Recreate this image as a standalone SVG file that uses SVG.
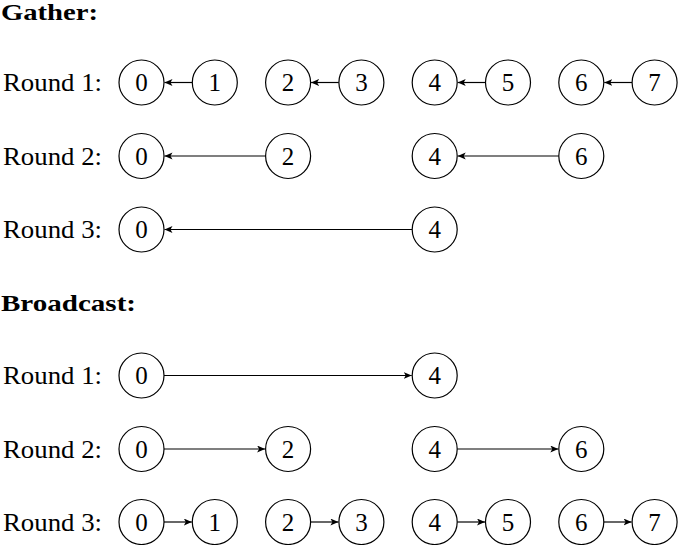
<svg xmlns="http://www.w3.org/2000/svg" width="678" height="545" viewBox="0 0 678 545">
<style>
text{font-family:"Liberation Serif","DejaVu Serif",serif;font-size:25px;fill:#000}
.h{font-weight:bold;font-size:24px}
.n text{text-anchor:middle}
circle{fill:#fff;stroke:#000;stroke-width:1.2}
.c line{stroke:#000;stroke-width:1.2;marker-end:url(#a)}
</style>
<defs>
<marker id="a" markerUnits="userSpaceOnUse" markerWidth="10" markerHeight="8" refX="8" refY="3.5" orient="auto" viewBox="0 0 10 8">
<path d="M0,0 L8,3.5 L0,7 L2,3.5 z" fill="#000"/>
</marker>
</defs>
<rect width="678" height="545" fill="#fff"/>
<text class="h" x="1" y="20" textLength="97" lengthAdjust="spacingAndGlyphs">Gather:</text>
<text class="h" x="1" y="311" textLength="135" lengthAdjust="spacingAndGlyphs">Broadcast:</text>
<g id="labels">
<text x="3" y="91" textLength="99" lengthAdjust="spacingAndGlyphs">Round 1:</text>
<text x="3" y="164.5" textLength="99" lengthAdjust="spacingAndGlyphs">Round 2:</text>
<text x="3" y="238" textLength="99" lengthAdjust="spacingAndGlyphs">Round 3:</text>
<text x="3" y="384" textLength="99" lengthAdjust="spacingAndGlyphs">Round 1:</text>
<text x="3" y="457.5" textLength="99" lengthAdjust="spacingAndGlyphs">Round 2:</text>
<text x="3" y="530.5" textLength="99" lengthAdjust="spacingAndGlyphs">Round 3:</text>
</g>
<g class="c" id="connectors">
<line x1="192.3" y1="82.5" x2="164.5" y2="82.5"/>
<line x1="338.9" y1="82.5" x2="311.1" y2="82.5"/>
<line x1="485.5" y1="82.5" x2="457.7" y2="82.5"/>
<line x1="632.1" y1="82.5" x2="604.3" y2="82.5"/>
<line x1="265.6" y1="156" x2="164.5" y2="156"/>
<line x1="558.8" y1="156" x2="457.7" y2="156"/>
<line x1="412.2" y1="229.5" x2="164.5" y2="229.5"/>
<line x1="164" y1="375.5" x2="411.7" y2="375.5"/>
<line x1="164" y1="449" x2="265.1" y2="449"/>
<line x1="457.2" y1="449" x2="558.3" y2="449"/>
<line x1="164" y1="522" x2="191.8" y2="522"/>
<line x1="310.6" y1="522" x2="338.4" y2="522"/>
<line x1="457.2" y1="522" x2="485" y2="522"/>
<line x1="603.8" y1="522" x2="631.6" y2="522"/>
</g>
<g class="n">
<g id="g1-0"><circle cx="141.5" cy="82.5" r="22.5"/><text x="141.5" y="91">0</text></g>
<g id="g1-1"><circle cx="214.8" cy="82.5" r="22.5"/><text x="214.8" y="91">1</text></g>
<g id="g1-2"><circle cx="288.1" cy="82.5" r="22.5"/><text x="288.1" y="91">2</text></g>
<g id="g1-3"><circle cx="361.4" cy="82.5" r="22.5"/><text x="361.4" y="91">3</text></g>
<g id="g1-4"><circle cx="434.7" cy="82.5" r="22.5"/><text x="434.7" y="91">4</text></g>
<g id="g1-5"><circle cx="508" cy="82.5" r="22.5"/><text x="508" y="91">5</text></g>
<g id="g1-6"><circle cx="581.3" cy="82.5" r="22.5"/><text x="581.3" y="91">6</text></g>
<g id="g1-7"><circle cx="654.6" cy="82.5" r="22.5"/><text x="654.6" y="91">7</text></g>
<g id="g2-0"><circle cx="141.5" cy="156" r="22.5"/><text x="141.5" y="164.5">0</text></g>
<g id="g2-2"><circle cx="288.1" cy="156" r="22.5"/><text x="288.1" y="164.5">2</text></g>
<g id="g2-4"><circle cx="434.7" cy="156" r="22.5"/><text x="434.7" y="164.5">4</text></g>
<g id="g2-6"><circle cx="581.3" cy="156" r="22.5"/><text x="581.3" y="164.5">6</text></g>
<g id="g3-0"><circle cx="141.5" cy="229.5" r="22.5"/><text x="141.5" y="238">0</text></g>
<g id="g3-4"><circle cx="434.7" cy="229.5" r="22.5"/><text x="434.7" y="238">4</text></g>
<g id="b1-0"><circle cx="141.5" cy="375.5" r="22.5"/><text x="141.5" y="384">0</text></g>
<g id="b1-4"><circle cx="434.7" cy="375.5" r="22.5"/><text x="434.7" y="384">4</text></g>
<g id="b2-0"><circle cx="141.5" cy="449" r="22.5"/><text x="141.5" y="457.5">0</text></g>
<g id="b2-2"><circle cx="288.1" cy="449" r="22.5"/><text x="288.1" y="457.5">2</text></g>
<g id="b2-4"><circle cx="434.7" cy="449" r="22.5"/><text x="434.7" y="457.5">4</text></g>
<g id="b2-6"><circle cx="581.3" cy="449" r="22.5"/><text x="581.3" y="457.5">6</text></g>
<g id="b3-0"><circle cx="141.5" cy="522" r="22.5"/><text x="141.5" y="530.5">0</text></g>
<g id="b3-1"><circle cx="214.8" cy="522" r="22.5"/><text x="214.8" y="530.5">1</text></g>
<g id="b3-2"><circle cx="288.1" cy="522" r="22.5"/><text x="288.1" y="530.5">2</text></g>
<g id="b3-3"><circle cx="361.4" cy="522" r="22.5"/><text x="361.4" y="530.5">3</text></g>
<g id="b3-4"><circle cx="434.7" cy="522" r="22.5"/><text x="434.7" y="530.5">4</text></g>
<g id="b3-5"><circle cx="508" cy="522" r="22.5"/><text x="508" y="530.5">5</text></g>
<g id="b3-6"><circle cx="581.3" cy="522" r="22.5"/><text x="581.3" y="530.5">6</text></g>
<g id="b3-7"><circle cx="654.6" cy="522" r="22.5"/><text x="654.6" y="530.5">7</text></g>
</g>
</svg>
